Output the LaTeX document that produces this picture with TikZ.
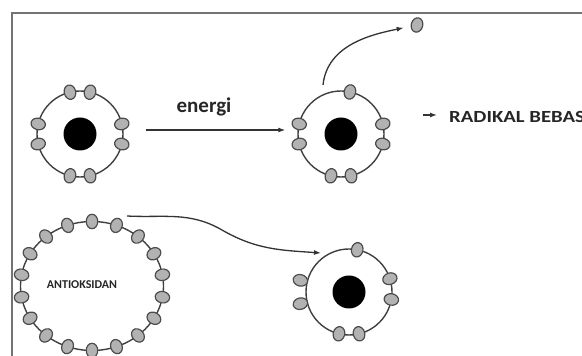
\documentclass[tikz,border=0pt]{standalone}
\usepackage{fontspec}
\setmainfont{Carlito}
\newfontfamily\widefont{Carlito}[FakeStretch=1.22]
\usetikzlibrary{arrows.meta,shapes.geometric,calc}
\tikzset{
	frame/.style={draw=black!55, line width=2pt},
	ring/.style={circle, draw=black!75, line width=1.4pt, minimum size=86pt, inner sep=0pt},
	core/.style={circle, fill=black, minimum size=33pt, inner sep=0pt},
	elec/.style={ellipse, draw=black!70, fill=black!30, line width=1.2pt, minimum width=14.5pt, minimum height=11.5pt, inner sep=0pt},
	arr/.style={draw=black!80, line width=1.3pt, -{Latex[length=7pt,width=5pt]}},
	txt/.style={inner sep=0pt, text=black!85, font=\bfseries},
}
\begin{document}
\begin{tikzpicture}[x=1pt,y=1pt]
	\def \rr{43}
	\useasboundingbox (0,0) rectangle (582,356);
	\clip (0,0) rectangle (582,356);
	\draw[frame] (12,-10) -- (12,343) -- (600,343);
	% atom 1
	\node[ring] (a1) at (80,222) {};
	\node[core] (n1) at (a1) {};
	\foreach \a [count=\i] in {-13.5,13.5,76.5,103.5,166.5,193.5,256.5,283.5}{\node[elec, rotate=\a] (e1\i) at ($(a1)+(\a:\rr)$) {};};
	% atom 2, one electron gone
	\node[ring] (a2) at (341,222) {};
	\node[core] (n2) at (a2) {};
	\foreach \a [count=\i] in {-13.5,13.5,78,166.5,193.5,256.5,283.5}{\node[elec, rotate=\a] (e2\i) at ($(a2)+(\a:\rr)$) {};};
	\node[elec, rotate=75] (e0) at (417,331) {};
	\coordinate (s2) at (323,271);
	\draw[arr, shorten >=7pt] (s2) to[out=84,in=182] (e0);
	% energi
	\draw[arr] ([xshift=22pt,yshift=4pt]a1.east) -- ([xshift=-12pt,yshift=4pt]a2.west);
	\node[txt, font=\bfseries\fontsize{21}{21}\selectfont] (en) at (204,249) {energi};
	% radikal bebas
	\node[txt, anchor=west, font=\widefont\bfseries\fontsize{17}{17}\selectfont] (rb) at (449,239) {RADIKAL BEBAS};
	\draw[arr] ($(rb.west)+(-26,2)$) -- ($(rb.west)+(-12,2)$);
	% antioksidan
	\node[ellipse, draw=black!75, line width=1.4pt, minimum width=143pt, minimum height=129pt] (ao) at (92,70) {};
	\foreach \a [count=\i] in {10,30,...,350}{\node[elec, rotate=\a] (ea\i) at ($(ao)+({71.5*cos(\a)},{64.5*sin(\a)})$) {};};
	\node[txt, font=\bfseries\fontsize{12}{12}\selectfont] (at) at (82,71) {ANTIOKSIDAN};
	% atom 3, gets electron
	\node[ring] (a3) at (349,64) {};
	\node[core] (n3) at (a3) {};
	\foreach \a [count=\i] in {-10,18,79,256.5,283.5}{\node[elec, rotate=\a] (e3\i) at ($(a3)+(\a:\rr)$) {};};
	\foreach \a [count=\i] in {166.5,193.5}{\node[elec, rotate=\a] (d3\i) at ($(a3)+(\a:50)$) {};};
	\coordinate (w0) at (127,140);
	\coordinate (w1) at (321,103);
	\draw[arr] (w0) to[out=-3,in=150] (222,126) to[out=-30,in=176] (w1);
\end{tikzpicture}
\end{document}
